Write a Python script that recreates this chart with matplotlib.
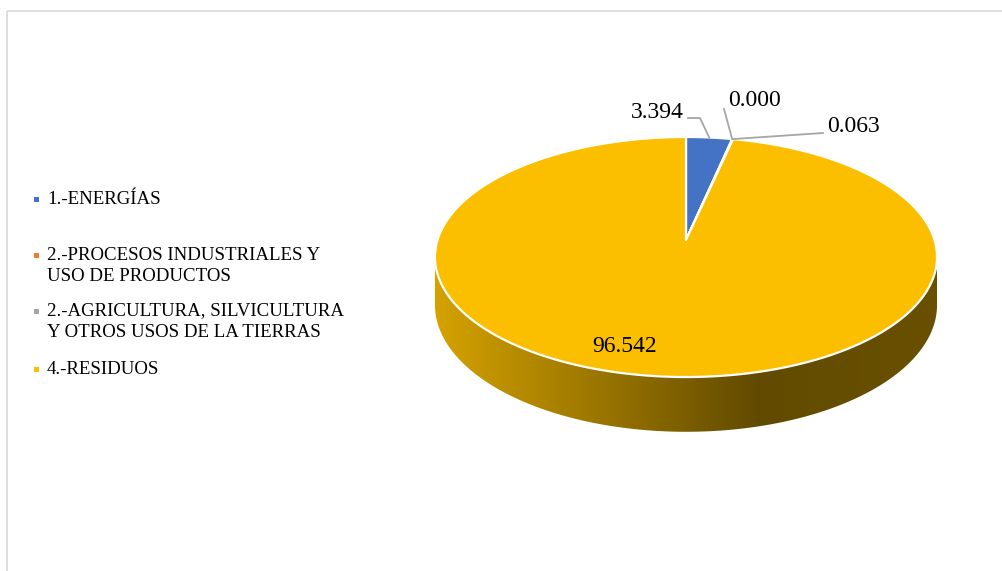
import numpy as np
import matplotlib.pyplot as plt
from matplotlib.patches import Polygon, Rectangle
from matplotlib.colors import to_rgb

# data
categories = ["1.-ENERGÍAS",
              "2.-PROCESOS INDUSTRIALES Y\nUSO DE PRODUCTOS",
              "2.-AGRICULTURA, SILVICULTURA\nY OTROS USOS DE LA TIERRAS",
              "4.-RESIDUOS"]
values = [3.394, 0.000, 0.063, 96.542]
value_labels = ["3.394", "0.000", "0.063", "96.542"]
colors = ["#4472C4", "#ED7D31", "#A5A5A5", "#FBBF00"]

# layout (pixels)
label_pos = [(657, 112), (755, 100), (854, 127), (625, 347)]
leader_starts = [[(688, 118), (700, 118)], [(724, 109)], [(823, 133)], None]
legend_y = [199, 255, 311, 369]

plt.rcParams['font.family'] = ['Liberation Serif', 'DejaVu Serif']

fig = plt.figure(figsize=(10.02, 5.71), dpi=100)
ax = fig.add_axes([0, 0, 1, 1])
ax.set_axis_off()

# outer frame
ax.add_patch(Rectangle((7.5, 10.5), 1100, 700, fill=False, edgecolor="#D9D9D9", lw=1.2))

# simple perspective projection of a tilted disc
cx, cy0 = 686, 240
W = 248.5
A, C = -83.6, 0.1417
depth = 47


def proj(theta_deg, r=1.0, h=0.0):
    t = np.radians(theta_deg)
    u, v = r * np.cos(t), r * np.sin(t)
    s = 1 / (1 + C * v)
    return cx + W * u * s, (cy0 + A * v) * s + h * s


fracs = np.array(values) / sum(values)
bounds = 90 - 360 * np.concatenate([[0], np.cumsum(fracs)])

# visible front wall range (between silhouettes)
a = np.degrees(np.arcsin(C))
front_lo, front_hi = -180 + a, -a

x_left, x_right = cx - W * 1.02, cx + W * 1.02
for i, col in enumerate(colors):
    t_hi, t_lo = bounds[i], bounds[i + 1]
    lo, hi = max(t_lo, front_lo), min(t_hi, front_hi)
    if hi <= lo:
        continue
    th = np.linspace(lo, hi, 200)
    tx, ty = proj(th)
    bx, by = proj(th[::-1], h=depth)
    wall = Polygon(np.column_stack([np.r_[tx, bx], np.r_[ty, by]]),
                   closed=True, facecolor="none", edgecolor="none")
    ax.add_patch(wall)
    xs = np.linspace(0, 1, 400)
    f = np.interp(xs, [0, 0.64, 1], [0.85, 0.39, 0.42])
    img = np.array(to_rgb(col))[None, None, :] * f[None, :, None]
    im = ax.imshow(img, extent=[x_left, x_right, 480, 200], aspect="auto",
                   interpolation="bilinear", zorder=1)
    im.set_clip_path(wall)

# top faces
for i, col in enumerate(colors):
    t_hi, t_lo = bounds[i], bounds[i + 1]
    if values[i] <= 0:
        continue
    th = np.linspace(t_hi, t_lo, max(3, int(abs(t_hi - t_lo) * 2)))
    rx, ry = proj(th)
    c0 = proj(0, r=0)
    pts = np.column_stack([np.r_[c0[0], rx], np.r_[c0[1], ry]])
    ax.add_patch(Polygon(pts, closed=True, facecolor=col, edgecolor="white",
                         lw=1.6, joinstyle="round", zorder=2))

# data labels with leader lines
for i, lab in enumerate(value_labels):
    x, y = label_pos[i]
    ax.text(x, y, lab, fontsize=17, ha="center", va="center", zorder=4)
    if leader_starts[i] is not None:
        mid = (bounds[i] + bounds[i + 1]) / 2
        ex, ey = proj(mid)
        pts = leader_starts[i] + [(ex, ey)]
        ax.plot([p[0] for p in pts], [p[1] for p in pts], color="#A6A6A6",
                lw=1.3, zorder=3)

# legend
for i, (cat, col) in enumerate(zip(categories, colors)):
    y = legend_y[i]
    ax.add_patch(Rectangle((34, y - 2.5), 5, 5, facecolor=col, edgecolor="none"))
    for j, line in enumerate(cat.split("\n")):
        ax.text(47, y + j * 21.5, line, fontsize=13.6, ha="left", va="center")

ax.set_xlim(0, 1002)
ax.set_ylim(571, 0)

fig.savefig("out.png", dpi=100)
